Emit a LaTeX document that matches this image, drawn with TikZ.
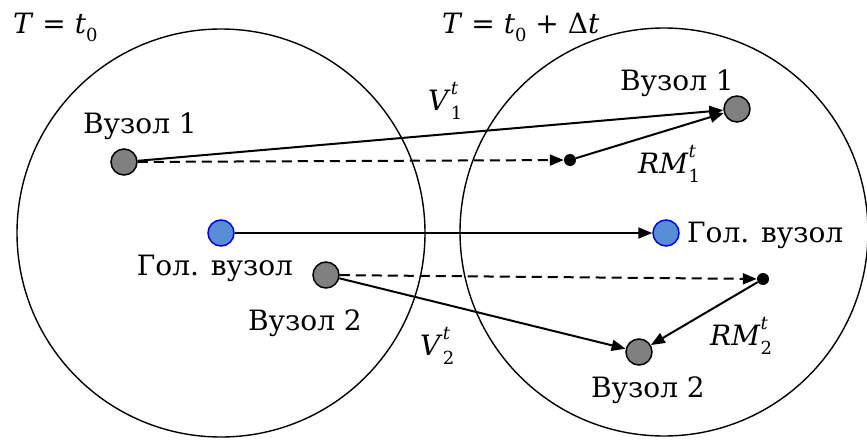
\documentclass[tikz,border=0pt]{standalone}
\usepackage{fontspec}
\setmainfont{DejaVu Serif}
\usetikzlibrary{positioning,arrows.meta}

\definecolor{headblue}{RGB}{85,142,213}
\newcommand{\smallscr}{\fontsize{18}{18}\selectfont}
\newcommand{\mvar}[3]{\textit{#1}\rlap{\raisebox{16pt}{\smallscr\itshape #3}}\raisebox{-9pt}{\smallscr #2}}

\begin{document}
\begin{tikzpicture}[
        x=1pt, y=-1pt,
        font=\fontsize{28}{32}\selectfont,
        zone/.style={draw, circle, line width=1.4pt, minimum size=408pt, inner sep=0pt},
        peer/.style={draw, circle, fill=black!50, line width=1.5pt, minimum size=26pt, inner sep=0pt},
        head/.style={peer, draw=blue, fill=headblue},
        dot/.style={circle, fill=black, minimum size=12pt, inner sep=0pt},
        lbl/.style={anchor=base west, inner sep=0pt},
        caption/.style={anchor=base, inner sep=0pt},
        arr/.style={-{Triangle[length=14pt, width=11pt]}, line width=2pt},
    ]
        \useasboundingbox (0,0) rectangle (867,439);

        % Two time instants
        \node[zone] (before) at (221,233) {};
        \node[zone] (after) at (664,232) {};
        \node[lbl] (tzero) at (13,33) {\textit{T} = \textit{t}\raisebox{-8pt}{\smallscr 0}};
        \node[lbl] (tlater) at (442,33) {\textit{T} = \textit{t}\raisebox{-8pt}{\smallscr 0} + Δ\textit{t}};

        % Nodes at T = t0
        \node[peer] (firstA) at (124,162) {};
        \node[head] (headA) at (221,233) {};
        \node[peer] (secondA) at (326,275) {};
        \node[caption] at (140,133) {Вузол 1};
        \node[caption] at (215,275) {Гол. вузол};
        \node[caption] at (305,330) {Вузол 2};

        % Nodes at T = t0 + dt
        \node[peer] (firstB) at (737,109) {};
        \node[head] (headB) at (666,233) {};
        \node[peer] (secondB) at (639,352) {};
        \node[dot] (refA) at (570,160) {};
        \node[dot] (refB) at (763,279) {};
        \node[caption] at (677,90) {Вузол 1};
        \node[lbl] at (687,242) {Гол. вузол};
        \node[caption] at (648,397) {Вузол 2};

        % Motion vectors
        \draw[arr] (firstA) -- (firstB);
        \draw[arr, dash pattern=on 10pt off 6pt] (firstA) -- (refA);
        \draw[arr] (refA) -- (firstB);
        \draw[arr] (headA) -- (headB);
        \draw[arr, dash pattern=on 10pt off 6pt] (secondA) -- (refB);
        \draw[arr] (secondA) -- (secondB);
        \draw[arr] (refB) -- (secondB);

        \node[lbl] at (428,110) {\mvar{V}{1}{t}};
        \node[lbl] at (420,355) {\mvar{V}{2}{t}};
        \node[lbl] at (638,173) {\mvar{RM}{1}{t}};
        \node[lbl] at (710,345) {\mvar{RM}{2}{t}};
    \end{tikzpicture}
\end{document}
